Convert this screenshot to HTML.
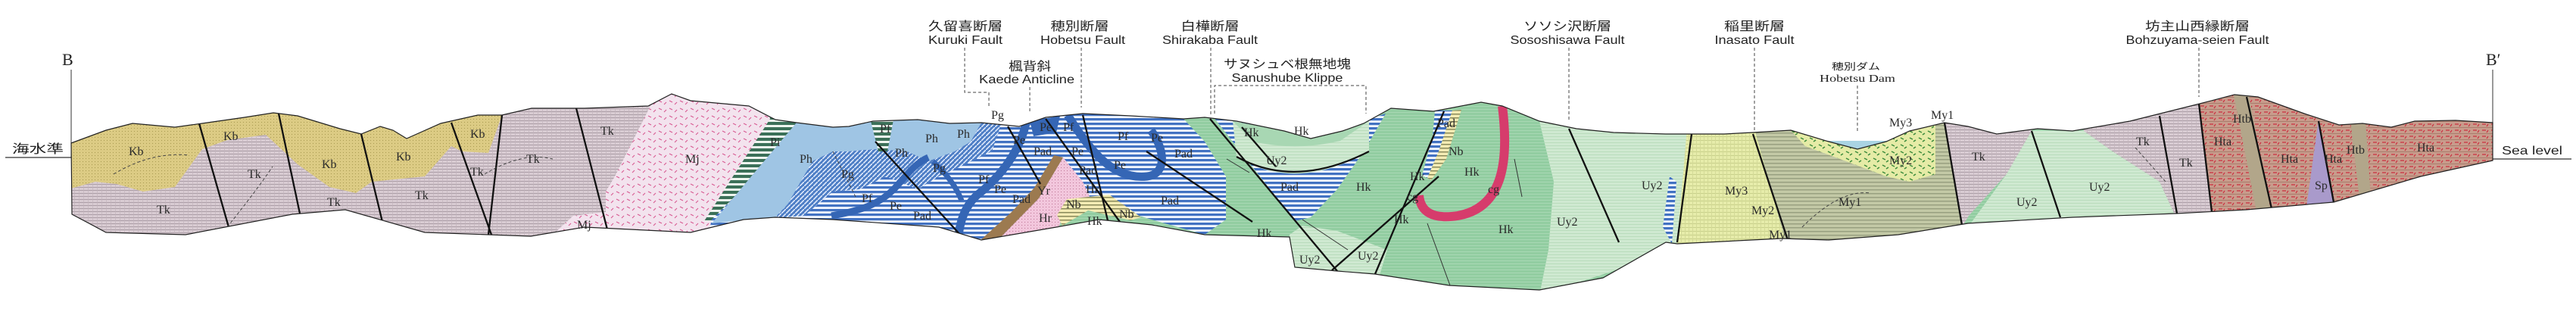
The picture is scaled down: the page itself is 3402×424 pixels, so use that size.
<!DOCTYPE html>
<html><head><meta charset="utf-8">
<style>
html,body{margin:0;padding:0;background:#fff;}
svg{display:block;}
.u{font-family:"Liberation Serif",serif;font-size:16px;fill:#2a2a2a;}
.t{font-family:"Liberation Sans","Noto Sans CJK JP",sans-serif;font-size:16px;fill:#222;}
.f{stroke:#111;stroke-width:2.3;fill:none;}
.d{stroke:#444;stroke-width:1;fill:none;stroke-dasharray:4 3;}
</style></head>
<body>
<svg width="3402" height="424" viewBox="0 0 3402 424" xmlns="http://www.w3.org/2000/svg">
<defs>
<pattern id="pTk" width="6" height="4" patternUnits="userSpaceOnUse"><rect width="6" height="4" fill="#d9ccd3"/><rect y="3" width="6" height="1" fill="#ab9da6"/><rect x="2" y="1" width="1" height="1" fill="#b9a9b3"/></pattern>
<pattern id="pKb" width="4" height="4" patternUnits="userSpaceOnUse"><rect width="4" height="4" fill="#dccb84"/><rect x="1" y="1" width="1" height="1" fill="#a89a50"/></pattern>
<pattern id="pMj" width="14" height="10" patternUnits="userSpaceOnUse"><rect width="14" height="10" fill="#f3e3ee"/><path d="M2 3l4 2M9 8l3-3" stroke="#d85a92" stroke-width="1.1"/></pattern>
<pattern id="pPad" width="6" height="6" patternUnits="userSpaceOnUse"><rect width="6" height="6" fill="#f4f8ff"/><rect width="6" height="3.2" fill="#4272c2"/></pattern>
<pattern id="pPi" width="6" height="7" patternUnits="userSpaceOnUse"><rect width="6" height="7" fill="#eef5ee"/><rect width="6" height="4" fill="#3b7058"/></pattern>
<pattern id="pPg" width="6" height="6" patternUnits="userSpaceOnUse"><rect width="6" height="6" fill="#4f7fc6"/><path d="M0 6L6 0" stroke="#e8f0ff" stroke-width="1.5"/></pattern>
<pattern id="pHk" width="4" height="4" patternUnits="userSpaceOnUse"><rect width="4" height="4" fill="#92cda1"/><rect width="4" height="1" fill="#a8d8b4"/></pattern>
<pattern id="pUy" width="4" height="4" patternUnits="userSpaceOnUse"><rect width="4" height="4" fill="#cfe9d1"/><rect width="4" height="1" fill="#b9dcbc"/></pattern>
<pattern id="pMy1" width="5" height="5" patternUnits="userSpaceOnUse"><rect width="5" height="5" fill="#c3c9a6"/><rect width="5" height="1.5" fill="#98a080"/></pattern>
<pattern id="pMy3" width="5" height="5" patternUnits="userSpaceOnUse"><rect width="5" height="5" fill="#e6ecaa"/><rect width="5" height="1" fill="#c8d08a"/><rect width="1" height="5" fill="#d4da98"/></pattern>
<pattern id="pMy2" width="12" height="9" patternUnits="userSpaceOnUse"><rect width="12" height="9" fill="#e5eba6"/><path d="M2 2l4 2M7 7l3-2" stroke="#3c8c3c" stroke-width="1.5"/></pattern>
<pattern id="pHta" width="12" height="8" patternUnits="userSpaceOnUse"><rect width="12" height="8" fill="#c89c8c"/><rect width="12" height="1" fill="#a97d6d"/><path d="M2 4h5M8 7l2-3" stroke="#cc3040" stroke-width="1.2"/></pattern>
<pattern id="pNb" width="5" height="5" patternUnits="userSpaceOnUse"><rect width="5" height="5" fill="#f4ecb4"/><rect width="5" height="1.5" fill="#8a8a5a"/></pattern>
<pattern id="pHr" width="4" height="4" patternUnits="userSpaceOnUse"><rect width="4" height="4" fill="#f2c6dc"/><rect x="1" y="1" width="1" height="1" fill="#c07898"/></pattern>
<clipPath id="sec"><path id="outl" d="M94,189 140,172 175,163 231,168 267,163 323,155 361,149 393,153 449,170 477,177 502,167 519,172 537,183 582,163 631,152 663,152 702,143 772,143 856,140 887,124 912,133 989,140 1024,158 1052,162 1100,168 1121,167 1153,160 1212,158 1254,163 1296,162 1346,167 1381,155 1430,150 1493,153 1563,157 1591,155 1633,160 1696,173 1731,183 1773,173 1801,163 1837,143 1893,147 1956,135 1984,140 2033,160 2082,170 2131,175 2200,177 2277,177 2315,175 2365,172 2415,187 2453,197 2491,187 2522,173 2568,162 2599,167 2637,177 2691,170 2737,173 2813,160 2905,137 2951,125 2982,128 3043,150 3089,165 3120,163 3158,168 3189,160 3243,159 3292,162 3292,212 3197,233 3082,267 2967,277 2875,282 2737,287 2599,295 2507,310 2415,317 2353,315 2215,322 2200,320 2117,367 2033,383 1914,377 1816,362 1766,358 1710,353 1703,313 1591,310 1521,297 1451,290 1395,300 1296,317 1240,300 1100,290 1024,287 982,290 912,307 772,300 701,312 561,307 456,277 386,283 245,310 140,307 95,283Z"/></clipPath>
</defs>

<text x="82" y="86" style="font-family:'Liberation Serif',serif;font-size:22px;fill:#222">B</text>
<line x1="94" y1="92" x2="94" y2="208" stroke="#333" stroke-width="1"/>
<line x1="7" y1="208" x2="94" y2="208" stroke="#333" stroke-width="1.2"/>
<text x="16" y="202" class="t" font-size="15" textLength="68" lengthAdjust="spacingAndGlyphs">海水準</text>
<text x="3283" y="86" style="font-family:'Liberation Serif',serif;font-size:22px;fill:#222">B′</text>
<line x1="3292" y1="92" x2="3292" y2="212" stroke="#333" stroke-width="1"/>
<line x1="3292" y1="210" x2="3396" y2="210" stroke="#333" stroke-width="1.2"/>
<text x="3304" y="204" class="t" textLength="80" lengthAdjust="spacingAndGlyphs">Sea level</text>

<g clip-path="url(#sec)">
<rect x="0" y="0" width="3402" height="424" fill="url(#pHk)"/>
<rect x="0" y="0" width="1060" height="424" fill="url(#pTk)"/>
<polygon fill="url(#pKb)" points="90,100 670,100 663,152 645,202 610,200 596,193 561,233 491,240 470,255 435,247 393,217 351,178 300,185 267,197 231,247 189,253 154,243 126,240 90,250"/>
<polygon fill="url(#pMj)" points="859,100 1030,100 1017,157 940,290 940,330 730,330 730,310 757,285 800,280 800,253 812,233 859,140"/>
<polygon fill="url(#pPi)" points="1010,100 1058,100 1052,162 968,262 940,292 930,292 1017,157"/>
<polygon fill="url(#pPad)" points="1052,100 1563,100 1563,157 1591,187 1619,233 1619,290 1591,310 1521,290 1465,273 1430,277 1402,293 1300,320 930,330 940,290 968,262 1052,162"/>
<polygon fill="#9fc5e4" points="1052,100 1296,100 1296,162 1282,187 1261,200 1226,213 1198,200 1156,197 1121,200 1100,200 1073,213 1040,270 1024,287 940,295 968,262 1052,162"/>
<polygon fill="url(#pPg)" points="1073,213 1100,200 1121,200 1156,197 1198,200 1226,213 1261,200 1282,187 1296,162 1322,165 1310,200 1275,217 1240,233 1212,250 1170,233 1135,250 1100,253 1062,285 1024,288 1040,270"/>
<polygon fill="url(#pPi)" points="1150,160 1180,158 1172,200 1160,200"/>
<path d="M1356,158 C1348,200 1320,235 1290,258 C1275,272 1268,290 1266,312" stroke="#3566b5" stroke-width="11" fill="none"/>
<path d="M1098,285 C1140,278 1165,268 1185,245 C1200,228 1210,215 1226,208" stroke="#3566b5" stroke-width="9" fill="none"/>
<path d="M1232,213 C1250,230 1262,245 1270,265" stroke="#3566b5" stroke-width="7" fill="none"/>
<path d="M1410,152 C1440,200 1470,238 1515,233 C1540,230 1540,200 1520,172" stroke="#3566b5" stroke-width="11" fill="none"/>
<polygon fill="#3566b5" points="1360,160 1400,153 1395,175 1365,180"/>
<polygon fill="#9c7a50" points="1392,205 1404,208 1372,262 1318,317 1294,318 1336,280 1366,248"/>
<polygon fill="url(#pHr)" points="1404,208 1430,240 1440,262 1410,272 1398,300 1380,312 1318,317 1372,262"/>
<polygon fill="url(#pNb)" points="1409,263 1465,257 1507,287 1493,291 1437,278 1403,298 1396,284"/>
<polygon fill="url(#pPad)" points="1599,150 1633,155 1801,160 1830,150 1801,200 1766,250 1731,287 1710,292"/>
<path fill="url(#pUy)" d="M1628,160 L1696,173 1731,183 1773,173 1808,160 1808,200 Q1710,255 1633,207 Z"/>
<path fill="#a8d7b3" d="M1628,160 L1696,173 1731,183 1773,173 1808,160 1770,186 Q1712,200 1655,187 Z"/>
<polygon fill="url(#pPad)" points="1895,146 1918,146 1900,200 1885,235 1878,232 1892,180"/>
<polygon fill="url(#pNb)" points="1918,146 1930,145 1910,210 1890,238 1885,235 1900,200"/>
<path d="M1984,140 C1994,220 1982,275 1925,285 C1892,290 1876,280 1874,258" stroke="#d63c6c" stroke-width="12" fill="none"/>
<polygon fill="url(#pUy)" points="2033,100 2234,100 2234,177 2215,330 2033,390 2045,330 2052,240 2033,160"/>
<polygon fill="url(#pUy)" points="1703,310 1700,370 1820,370 1832,330 1766,305 1720,298"/>
<polygon fill="url(#pPad)" points="2196,300 2205,233 2214,240 2208,322"/>
<polygon fill="url(#pMy3)" points="2234,100 2319,100 2319,177 2361,330 2210,330 2215,320"/>
<polygon fill="url(#pMy1)" points="2319,100 2568,100 2568,162 2591,297 2591,330 2361,330 2319,177"/>
<polygon fill="url(#pMy2)" points="2365,100 2556,100 2556,230 2522,240 2491,233 2430,210 2384,193 2365,172"/>
<polygon fill="url(#pTk)" points="2568,100 2683,100 2683,173 2650,230 2600,285 2591,300 2568,162"/>
<polygon fill="url(#pUy)" points="2683,173 2752,173 2790,200 2852,240 2875,290 2737,292 2599,300 2650,230"/>
<polygon fill="url(#pTk)" points="2752,100 2904,100 2904,137 2921,290 2875,290 2852,240 2790,200 2752,173"/>
<polygon fill="url(#pHta)" points="2904,100 3300,100 3300,330 2921,330 2921,280 2904,137"/>
<polygon fill="#b2a68a" points="2945,100 2965,100 3001,290 2982,290"/>
<polygon fill="#b2a68a" points="3097,100 3120,100 3131,260 3116,262"/>
<polygon fill="#a99acb" points="3062,158 3045,280 3082,268"/>
<path class="f" d="M263,163L302,300M368,150L396,282M477,177L505,293M596,162L649,310M663,152L645,310M761,143L803,307"/>
<path class="f" d="M1156,187L1268,310M1331,167L1374,243M1381,157L1489,307M1430,152L1465,300M1514,200L1654,293M1598,157L1766,358M1907,147L1816,362M1900,233L1759,357M2072,170L2138,320M1633,207Q1710,250 1808,200M1640,168L1685,220"/>
<path class="f" d="M2234,177L2215,320M2315,177L2361,317M2568,162L2591,297M2683,173L2721,287M2852,153L2875,282M2904,137L2921,280M2967,128L3001,280M3062,160L3082,267"/>
<path d="M1620,210L1650,228M1720,290L1780,330M1885,295L1915,377M2000,210L2010,260" stroke="#333" stroke-width="1" fill="none"/>
<path class="d" d="M150,230Q200,200 250,205M300,300Q340,250 360,220M640,230Q690,200 730,210M1100,200L1130,260M2380,300Q2430,250 2470,255M2820,195L2860,240"/>
</g>
<polygon fill="#a9d3e3" points="2412,186 2494,186 2491,187 2453,197 2415,187"/>
<use href="#outl" fill="none" stroke="#222" stroke-width="1.2"/>

<g class="t">
<text x="1275" y="40" text-anchor="middle" textLength="98" lengthAdjust="spacingAndGlyphs">久留喜断層</text>
<text x="1275" y="58" text-anchor="middle" textLength="98" lengthAdjust="spacingAndGlyphs">Kuruki Fault</text>
<text x="1426" y="40" text-anchor="middle" textLength="77" lengthAdjust="spacingAndGlyphs">穂別断層</text>
<text x="1430" y="58" text-anchor="middle" textLength="112" lengthAdjust="spacingAndGlyphs">Hobetsu Fault</text>
<text x="1598" y="40" text-anchor="middle" textLength="77" lengthAdjust="spacingAndGlyphs">白樺断層</text>
<text x="1598" y="58" text-anchor="middle" textLength="126" lengthAdjust="spacingAndGlyphs">Shirakaba Fault</text>
<text x="2070" y="40" text-anchor="middle" textLength="116" lengthAdjust="spacingAndGlyphs">ソソシ沢断層</text>
<text x="2070" y="58" text-anchor="middle" textLength="151" lengthAdjust="spacingAndGlyphs">Sososhisawa Fault</text>
<text x="1360" y="93" text-anchor="middle" textLength="56" lengthAdjust="spacingAndGlyphs">楓背斜</text>
<text x="1356" y="110" text-anchor="middle" textLength="126" lengthAdjust="spacingAndGlyphs">Kaede Anticline</text>
<text x="1700" y="90" text-anchor="middle" textLength="168" lengthAdjust="spacingAndGlyphs">サヌシュベ根無地塊</text>
<text x="1700" y="108" text-anchor="middle" textLength="147" lengthAdjust="spacingAndGlyphs">Sanushube Klippe</text>
<text x="2317" y="40" text-anchor="middle" textLength="80" lengthAdjust="spacingAndGlyphs">稲里断層</text>
<text x="2317" y="58" text-anchor="middle" textLength="105" lengthAdjust="spacingAndGlyphs">Inasato Fault</text>
<text x="2451" y="92" text-anchor="middle" font-size="12" textLength="64" lengthAdjust="spacingAndGlyphs">穂別ダム</text>
<text x="2453" y="108" text-anchor="middle" style="font-family:'Liberation Serif',serif" font-size="14" textLength="100" lengthAdjust="spacingAndGlyphs">Hobetsu Dam</text>
<text x="2902" y="40" text-anchor="middle" textLength="138" lengthAdjust="spacingAndGlyphs">坊主山西縁断層</text>
<text x="2902" y="58" text-anchor="middle" textLength="189" lengthAdjust="spacingAndGlyphs">Bohzuyama-seien Fault</text>
</g>
<path class="d" d="M1274,63V122H1306V143M1360,115V148M1428,63V142M1599,63V153M1604,150V113H1804V150M2072,63V160M2317,63V173M2453,113V175M2904,63V128"/>

<g class="u">
<text x="170" y="205">Kb</text><text x="295" y="185">Kb</text><text x="425" y="222">Kb</text><text x="523" y="212">Kb</text><text x="621" y="182">Kb</text>
<text x="207" y="282">Tk</text><text x="327" y="235">Tk</text><text x="432" y="272">Tk</text><text x="548" y="263">Tk</text><text x="621" y="232">Tk</text><text x="695" y="215">Tk</text><text x="793" y="178">Tk</text>
<text x="905" y="215">Mj</text><text x="762" y="302">Mj</text><text x="1017" y="193">Pi</text><text x="1056" y="215">Ph</text>
<text x="1162" y="175">Pf</text><text x="1222" y="188">Ph</text><text x="1264" y="182">Ph</text><text x="1182" y="207">Ph</text>
<text x="1111" y="235">Pg</text><text x="1232" y="227">Pg</text><text x="1138" y="267">Pf</text><text x="1175" y="277">Pe</text><text x="1206" y="290">Pad</text>
<text x="1292" y="242">Pf</text><text x="1313" y="255">Pe</text><text x="1337" y="268">Pad</text><text x="1309" y="157">Pg</text>
<text x="1373" y="173">Pe</text><text x="1404" y="173">Pf</text><text x="1338" y="190">Pe</text><text x="1365" y="205">Pad</text><text x="1415" y="205">Pe</text><text x="1425" y="230">Pad</text>
<text x="1476" y="185">Pf</text><text x="1520" y="187">Pe</text><text x="1471" y="223">Pe</text><text x="1551" y="208">Pad</text><text x="1533" y="270">Pad</text>
<text x="1370" y="257">Yr</text><text x="1372" y="293">Hr</text><text x="1408" y="275">Nb</text><text x="1434" y="255">Hr</text><text x="1478" y="288">Nb</text><text x="1436" y="297">Hk</text>
<text x="1643" y="180">Hk</text><text x="1709" y="178">Hk</text><text x="1672" y="217">Uy2</text><text x="1691" y="252">Pad</text><text x="1791" y="252">Hk</text><text x="1660" y="313">Hk</text>
<text x="1716" y="348">Uy2</text><text x="1793" y="343">Uy2</text><text x="1898" y="168">Pad</text><text x="1913" y="205">Nb</text><text x="1934" y="232">Hk</text><text x="1862" y="238">Hk</text>
<text x="1965" y="255">cg</text><text x="1858" y="265">cg</text><text x="1841" y="295">Hk</text><text x="1979" y="308">Hk</text><text x="2168" y="250">Uy2</text><text x="2056" y="298">Uy2</text>
<text x="2278" y="257">My3</text><text x="2313" y="283">My2</text><text x="2336" y="315">My1</text><text x="2428" y="272">My1</text><text x="2495" y="217">My2</text><text x="2495" y="167">My3</text><text x="2550" y="157">My1</text>
<text x="2604" y="212">Tk</text><text x="2663" y="272">Uy2</text><text x="2759" y="252">Uy2</text><text x="2821" y="192">Tk</text><text x="2878" y="220">Tk</text>
<text x="2924" y="192">Hta</text><text x="2949" y="162">Htb</text><text x="3012" y="215">Hta</text><text x="3070" y="215">Hta</text><text x="3057" y="250">Sp</text><text x="3099" y="203">Htb</text><text x="3192" y="200">Hta</text>
</g>
</svg>
</body></html>
